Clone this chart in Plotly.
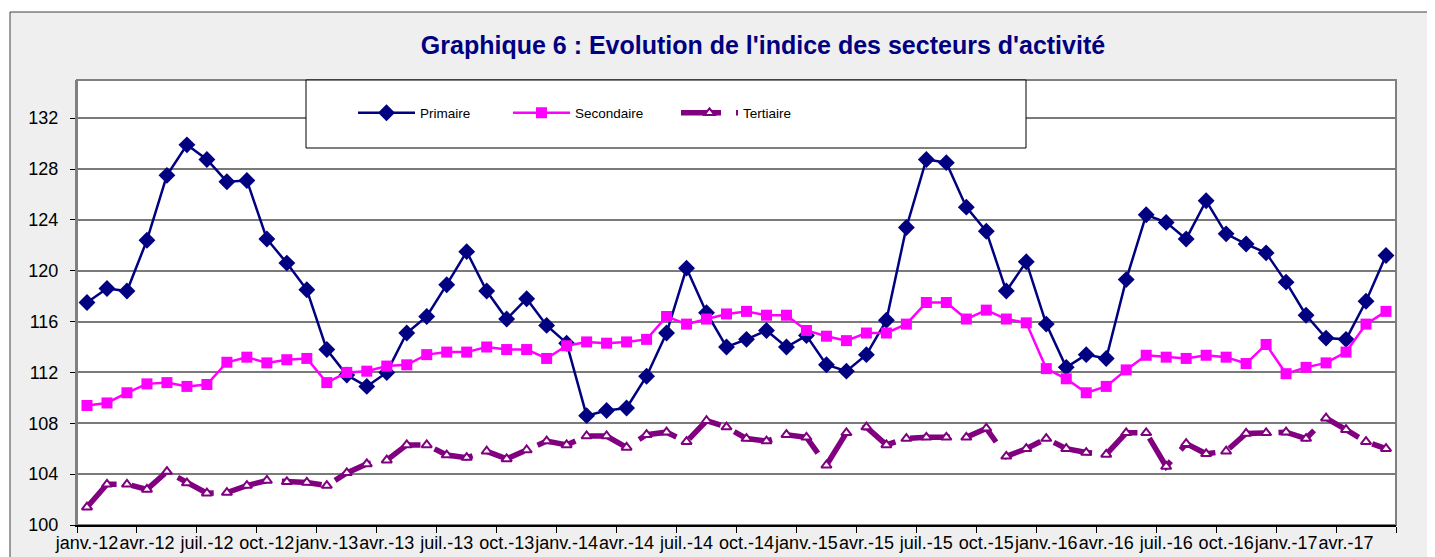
import plotly.graph_objects as go

# ---- data ----
month_abbr = ["janv.", "févr.", "mars", "avr.", "mai", "juin",
              "juil.", "août", "sept.", "oct.", "nov.", "déc."]
years = ["12", "13", "14", "15", "16", "17"]
n_months = 66  # janv.-12 .. juin-17
categories = [f"{month_abbr[i % 12]}-{years[i // 12]}" for i in range(n_months)]

primaire = [117.5, 118.6, 118.4, 122.4, 127.5, 129.9, 128.75, 127.0, 127.1, 122.5, 120.6, 118.5,
            113.8, 111.8, 110.9, 112.0, 115.1, 116.4, 118.9, 121.5, 118.4, 116.2, 117.8, 115.7,
            114.3, 108.6, 109.0, 109.2, 111.7, 115.1, 120.2, 116.7, 114.0, 114.6, 115.3, 114.0,
            114.9, 112.6, 112.1, 113.4, 116.1, 123.4, 128.75, 128.5, 125.0, 123.1, 118.4, 120.7,
            115.8, 112.4, 113.4, 113.1, 119.3, 124.4, 123.8, 122.5, 125.5, 122.9, 122.1, 121.4,
            119.1, 116.5, 114.7, 114.6, 117.6, 121.2]

secondaire = [109.4, 109.6, 110.4, 111.1, 111.2, 110.9, 111.05, 112.8, 113.2, 112.75, 113.0, 113.1,
              111.2, 112.0, 112.1, 112.5, 112.6, 113.4, 113.6, 113.6, 114.0, 113.8, 113.8, 113.1,
              114.1, 114.4, 114.3, 114.4, 114.6, 116.4, 115.8, 116.2, 116.6, 116.8, 116.5, 116.5,
              115.3, 114.85, 114.5, 115.1, 115.1, 115.8, 117.5, 117.5, 116.2, 116.9, 116.2, 115.9,
              112.3, 111.5, 110.4, 110.9, 112.2, 113.35, 113.2, 113.1, 113.35, 113.2, 112.7, 114.2,
              111.9, 112.4, 112.75, 113.6, 115.8, 116.8]

tertiaire = [101.4, 103.2, 103.2, 102.8, 104.2, 103.3, 102.5, 102.55, 103.1, 103.5, 103.4, 103.35,
             103.1, 104.1, 104.8, 105.1, 106.3, 106.3, 105.5, 105.3, 105.8, 105.2, 105.9, 106.6,
             106.3, 107.0, 107.0, 106.1, 107.1, 107.3, 106.55, 108.2, 107.7, 106.8, 106.6, 107.1,
             106.9, 104.7, 107.25, 107.7, 106.3, 106.8, 106.9, 106.9, 106.9, 107.6, 105.4, 106.0,
             106.8, 106.0, 105.7, 105.55, 107.25, 107.25, 104.6, 106.4, 105.6, 105.8, 107.2, 107.25,
             107.3, 106.8, 108.4, 107.5, 106.55, 106.0]

series_names = ["Primaire", "Secondaire", "Tertiaire"]
y_ticks = [100, 104, 108, 112, 116, 120, 124, 128, 132]
title_text = "Graphique 6 : Evolution de l'indice des secteurs d'activité"

# ---- figure ----
OFF = 8  # page body margin
W, H = 1435, 557
L, R, T, B = 77 - OFF, 1396 - OFF, 80 - OFF, 525 - OFF  # plot area pixels (figure coords)
pw, ph = R - L, B - T


def px_x(p):
    return (p - OFF - L) / pw


def px_y(p):
    return (B - (p - OFF)) / ph


xs = list(range(n_months))
fig = go.Figure()

fig.add_trace(go.Scatter(
    x=xs, y=primaire, name=series_names[0], mode="lines+markers",
    line=dict(color="#000080", width=2.5),
    marker=dict(symbol="diamond", size=13, color="#000080"),
    legend="legend"))
fig.add_trace(go.Scatter(
    x=xs, y=secondaire, name=series_names[1], mode="lines+markers",
    line=dict(color="#FF00FF", width=2.5),
    marker=dict(symbol="square", size=11, color="#FF00FF"),
    legend="legend2"))
fig.add_trace(go.Scatter(
    x=xs, y=tertiaire, name=series_names[2], mode="lines+markers",
    line=dict(color="#800080", width=5.5, dash="40px,15px"),
    marker=dict(symbol="triangle-up", size=9, color="white",
                line=dict(color="#800080", width=2)),
    legend="legend3"))

shapes = [
    # outer chart frame with light patterned-looking fill
    dict(type="rect", xref="paper", yref="paper",
         x0=px_x(10), x1=px_x(1460), y0=px_y(590), y1=px_y(12),
         fillcolor="#efefef", line=dict(color="#404040", width=1), layer="below"),
    # plot area
    dict(type="rect", xref="paper", yref="paper", x0=0, x1=1, y0=0, y1=1,
         fillcolor="white", line=dict(color="#808080", width=2), layer="below"),
    # legend box
    dict(type="rect", xref="paper", yref="paper",
         x0=px_x(306), x1=px_x(1026), y0=px_y(148), y1=px_y(80),
         fillcolor="white", line=dict(color="black", width=1), layer="above"),
]

legend_common = dict(orientation="h", bgcolor="rgba(0,0,0,0)", borderwidth=0,
                     itemwidth=57, xanchor="left", yanchor="middle",
                     font=dict(family="Liberation Sans Narrow, Arial Narrow, Liberation Sans",
                               size=13.5, color="black"))

minor_vals = [i - 0.5 for i in range(0, n_months + 1, 3)]
major_vals = list(range(0, n_months, 3))

fig.update_layout(
    width=W, height=H,
    margin=dict(l=L, r=W - R, t=T, b=H - B, pad=0, autoexpand=False),
    paper_bgcolor="white", plot_bgcolor="white",
    font=dict(family="Liberation Sans, Arial, sans-serif", color="black"),
    title=dict(text=f"<b>{title_text}</b>", x=(763 - OFF) / W, xref="container",
               xanchor="center", y=1 - (45 - OFF) / H, yref="container", yanchor="middle",
               font=dict(size=25, color="#000080",
                         family="Liberation Sans, Arial, sans-serif")),
    shapes=shapes,
    legend=dict(**legend_common, x=px_x(353), y=px_y(113)),
    legend2=dict(**legend_common, x=px_x(508), y=px_y(113)),
    legend3=dict(**legend_common, x=px_x(676), y=px_y(113)),
    showlegend=True,
)

fig.update_xaxes(
    range=[-0.5, n_months - 0.5], showgrid=False, zeroline=False, automargin=False,
    tickmode="array", tickvals=major_vals,
    ticktext=[categories[i] for i in major_vals],
    ticks="", tickangle=0, tickfont=dict(size=18, color="black"),
    ticklabelstandoff=1,
    showline=True, linecolor="black", linewidth=1.5,
    minor=dict(tickmode="array", tickvals=minor_vals, ticks="outside",
               ticklen=6, tickcolor="black", tickwidth=1, showgrid=False),
)
fig.update_yaxes(
    range=[100, 135], tickmode="array", tickvals=y_ticks, automargin=False,
    showgrid=True, gridcolor="#7a7a7a", gridwidth=1.5, zeroline=False,
    ticks="outside", ticklen=5, tickcolor="black", tickwidth=1,
    tickfont=dict(size=18, color="black"), ticklabelstandoff=8,
    showline=True, linecolor="#808080", linewidth=2,
)

fig.write_html("out.html")
